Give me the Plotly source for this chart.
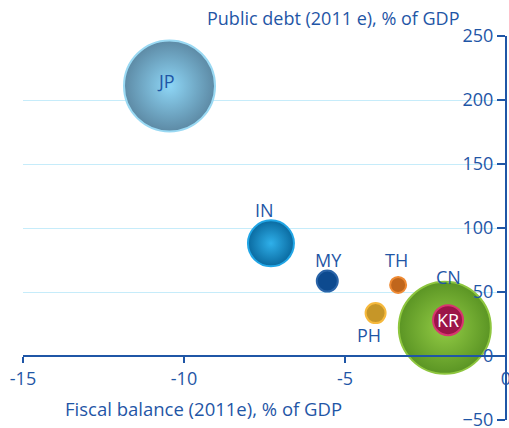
import plotly.graph_objects as go

countries = ["JP", "IN", "MY", "TH", "PH", "CN", "KR"]
fiscal_balance = [-10.45, -7.3, -5.55, -3.35, -4.05, -1.9, -1.8]
public_debt = [211, 88, 58.5, 55.5, 33.5, 22, 28]
bubble_size = [91, 46, 21, 16, 20, 92, 30]

x_ticks = [-15, -10, -5, 0]
y_ticks = [-50, 0, 50, 100, 150, 200, 250]

edge_colors = ["#5d8aa5", "#0a6aa0", "#0d4a8f", "#c0661c", "#c69628", "#5b9524", "#9c1548"]
center_colors = ["#8ed6f6", "#2fb0ea", "#0d4a8f", "#c0661c", "#c69628", "#93cc45", "#9c1548"]
line_colors = ["#9ad9f3", "#21a6e6", "#2a64a8", "#ee8a33", "#f6b93d", "#8ec63f", "#d8366f"]
label_colors = ["#1f56a6", "#1f56a6", "#1f56a6", "#1f56a6", "#1f56a6", "#1f56a6", "#ffffff"]
label_dx = [-4, -6, 1, -2, -7, 4, 0]
label_dy = [5, 33, 21, 25, -22, 51, 0]

BLUE = "#1f56a6"
FONT = "Open Sans"

fig = go.Figure()
fig.add_trace(go.Scatter(
    x=fiscal_balance, y=public_debt, mode="markers",
    marker=dict(size=bubble_size, sizemode="diameter", color=edge_colors, opacity=1,
                gradient=dict(type="radial", color=center_colors),
                line=dict(color=line_colors, width=2)),
    hoverinfo="text", text=countries, showlegend=False,
))

for c, x, y, col, dx, dy in zip(countries, fiscal_balance, public_debt, label_colors, label_dx, label_dy):
    fig.add_annotation(x=x, y=y, text=c, showarrow=False, xshift=dx, yshift=dy,
                       font=dict(family=FONT, size=18, color=col))

fig.add_annotation(xref="paper", yref="paper", x=0.642, y=1.047, xanchor="center", yanchor="middle",
                   text="Public debt (2011 e), % of GDP",
                   showarrow=False, font=dict(family=FONT, size=18, color=BLUE))
fig.add_annotation(xref="paper", yref="paper", x=0.373, y=0.031, xanchor="center", yanchor="middle",
                   text="Fiscal balance (2011e), % of GDP",
                   showarrow=False, font=dict(family=FONT, size=18.5, color=BLUE))

fig.update_layout(
    width=509, height=428,
    margin=dict(l=23, r=3, t=36, b=8),
    paper_bgcolor="white", plot_bgcolor="white",
    font=dict(family=FONT, color=BLUE),
    xaxis=dict(range=[-15, 0], tickvals=x_ticks, ticktext=[str(v) for v in x_ticks],
               anchor="free", position=50 / 300, showgrid=False, zeroline=False,
               automargin=False, ticklabeloverflow="allow",
               showline=True, linecolor=BLUE, linewidth=2,
               ticks="outside", ticklen=6, tickwidth=2, tickcolor=BLUE,
               tickfont=dict(family=FONT, size=18, color=BLUE)),
    yaxis=dict(range=[-50, 250], tickvals=y_ticks, side="left",
               anchor="free", position=1.0, automargin=False, ticklabeloverflow="allow",
               showgrid=True, gridcolor="#c6ecfa", gridwidth=1, zeroline=False,
               showline=True, linecolor=BLUE, linewidth=2,
               ticks="outside", ticklen=8, tickwidth=2, tickcolor=BLUE,
               tickfont=dict(family=FONT, size=18, color=BLUE)),
)

fig.write_html("out.html", config={"displayModeBar": False},
               post_script="document.body.style.margin='0';document.body.style.overflow='hidden';")
